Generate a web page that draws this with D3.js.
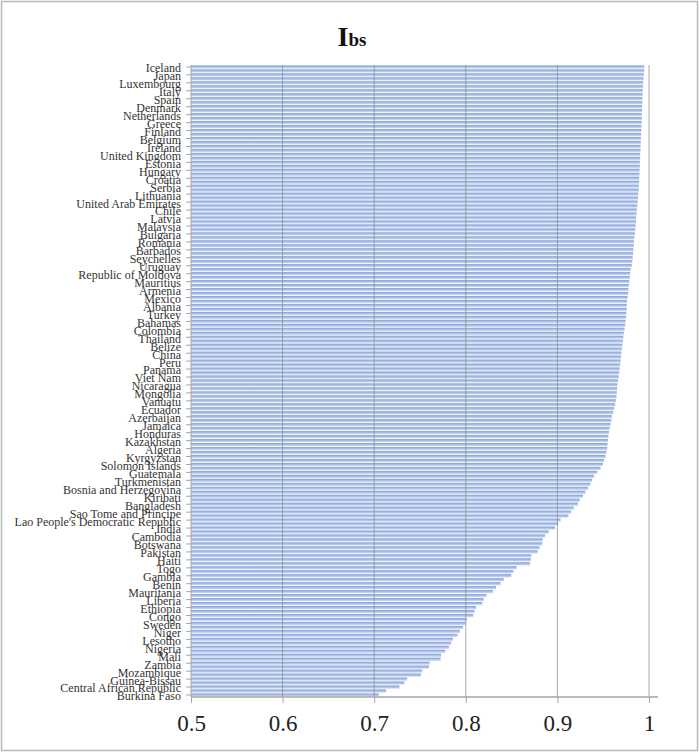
<!DOCTYPE html>
<html>
<head>
<meta charset="utf-8">
<script src="https://cdn.jsdelivr.net/npm/d3@7"></script>
<style>
body { margin: 0; background: #fff; }
text { font-family: "Liberation Serif", "DejaVu Serif", serif; }
</style>
</head>
<body>
<svg id="chart" width="700" height="753"></svg>
<script>
// labels shown on the axis: every other bar carries one
var labels = ["Iceland","Japan","Luxembourg","Italy","Spain","Denmark","Netherlands","Greece","Finland","Belgium",
	"Ireland","United Kingdom","Estonia","Hungary","Croatia","Serbia","Lithuania","United Arab Emirates","Chile","Latvia",
	"Malaysia","Bulgaria","Romania","Barbados","Seychelles","Uruguay","Republic of Moldova","Mauritius","Armenia","Mexico",
	"Albania","Turkey","Bahamas","Colombia","Thailand","Belize","China","Peru","Panama","Viet Nam",
	"Nicaragua","Mongolia","Vanuatu","Ecuador","Azerbaijan","Jamaica","Honduras","Kazakhstan","Algeria","Kyrgyzstan",
	"Solomon Islands","Guatemala","Turkmenistan","Bosnia and Herzegovina","Kiribati","Bangladesh","Sao Tome and Principe","Lao People's Democratic Republic","India","Cambodia",
	"Botswana","Pakistan","Haiti","Togo","Gambia","Benin","Mauritania","Liberia","Ethiopia","Congo",
	"Sweden","Niger","Lesotho","Nigeria","Mali","Zambia","Mozambique","Guinea-Bissau","Central African Republic","Burkina Faso"];

// one value per bar, top to bottom
var values = [0.995,0.9948,0.9945,0.994,0.9937,0.9933,0.9932,0.993,0.9928,0.9927,
	0.9925,0.9924,0.9922,0.9921,0.992,0.9918,0.9916,0.9914,0.9912,0.991,
	0.9909,0.9907,0.9905,0.9903,0.9901,0.99,0.9898,0.9896,0.9894,0.9892,
	0.989,0.9887,0.9884,0.988,0.9876,0.9872,0.9868,0.9864,0.986,0.9858,
	0.9854,0.985,0.9845,0.984,0.9836,0.9833,0.983,0.9826,0.9822,0.9818,
	0.9812,0.980,0.9795,0.979,0.9785,0.978,0.9776,0.9772,0.9766,0.976,
	0.9758,0.9756,0.9753,0.975,0.9745,0.974,0.9733,0.9726,0.972,0.9715,
	0.971,0.9705,0.970,0.9695,0.969,0.9685,0.968,0.9675,0.967,0.9662,
	0.9656,0.9652,0.9648,0.9645,0.9638,0.963,0.962,0.961,0.9595,0.9588,
	0.958,0.957,0.9562,0.9556,0.9552,0.9548,0.9544,0.9535,0.9525,0.951,
	0.9495,0.947,0.9435,0.94,0.938,0.936,0.9335,0.9305,0.928,0.9245,
	0.9225,0.918,0.915,0.912,0.9035,0.901,0.8975,0.8905,0.8865,0.884,
	0.8835,0.8805,0.8785,0.8715,0.871,0.870,0.8555,0.852,0.8497,0.8415,
	0.838,0.833,0.8296,0.8225,0.8195,0.818,0.8113,0.8095,0.808,0.801,
	0.800,0.797,0.7935,0.791,0.786,0.784,0.7816,0.7775,0.773,0.7725,
	0.7605,0.7597,0.7525,0.751,0.736,0.733,0.7276,0.713,0.705];

var xTicks = [0.5, 0.6, 0.7, 0.8, 0.9, 1];

var svg = d3.select("#chart");
var plotLeft = 191, plotRight = 649, plotTop = 65, plotBottom = 697;

// outer frame
svg.append("rect").attr("x", 1.5).attr("y", 1.5).attr("width", 696).attr("height", 749)
	.attr("fill", "none").attr("stroke", "#b8b8b8").attr("stroke-width", 1.5);

var x = d3.scaleLinear().domain([0.5, 1]).range([plotLeft, plotRight]);
var y = d3.scaleBand().domain(d3.range(values.length)).range([plotTop, plotBottom]).paddingInner(0.2).paddingOuter(0.1);

var grad = svg.append("defs").append("linearGradient").attr("id", "barfill")
	.attr("x1", 0).attr("y1", 0).attr("x2", 0).attr("y2", 1);
grad.append("stop").attr("offset", "0%").attr("stop-color", "#7f9dd8");
grad.append("stop").attr("offset", "100%").attr("stop-color", "#d3def2");

// bars
svg.append("g").selectAll("rect").data(values).enter().append("rect")
	.attr("x", x(0.5))
	.attr("y", function(d, i) { return y(i) })
	.attr("width", function(d) { return x(d) - x(0.5) })
	.attr("height", y.bandwidth())
	.attr("fill", "url(#barfill)");

// vertical gridlines
svg.append("g").selectAll("line").data(xTicks.slice(1)).enter().append("line")
	.attr("x1", function(d) { return x(d) }).attr("x2", function(d) { return x(d) })
	.attr("y1", plotTop).attr("y2", plotBottom)
	.attr("stroke", "#8c8c8c").attr("stroke-opacity", 0.75).attr("stroke-width", 1);

// bottom axis
var xAxis = svg.append("g").attr("transform", "translate(0," + plotBottom + ")")
	.call(d3.axisBottom(x).tickValues(xTicks).tickFormat(d3.format("")).tickSize(6).tickPadding(12));
xAxis.select(".domain").attr("d", "M" + plotLeft + ",0H658").attr("stroke", "#a6a6a6").attr("stroke-width", 1.5);
xAxis.selectAll(".tick line").attr("stroke", "#a6a6a6");
xAxis.selectAll("text").attr("font-size", 23).attr("fill", "#222");

// category axis, label on every second bar
var yAxis = svg.append("g").attr("transform", "translate(" + plotLeft + ",0)")
	.call(d3.axisLeft(y).tickValues(d3.range(0, values.length, 2))
		.tickFormat(function(i) { return labels[i / 2] }).tickSize(5).tickPadding(5));
yAxis.select(".domain").attr("d", "M0," + plotTop + "V" + plotBottom).attr("stroke", "#a6a6a6");
yAxis.selectAll(".tick line").attr("stroke", "#a6a6a6");
yAxis.selectAll("text").attr("font-size", 12).attr("fill", "#333").attr("dy", "0.45em");

// title
var title = svg.append("text").attr("x", 352).attr("y", 46).attr("text-anchor", "middle")
	.attr("font-weight", "bold").attr("fill", "#111");
title.append("tspan").attr("font-size", 28).text("I");
title.append("tspan").attr("font-size", 19).text("bs");
</script>
</body>
</html>
